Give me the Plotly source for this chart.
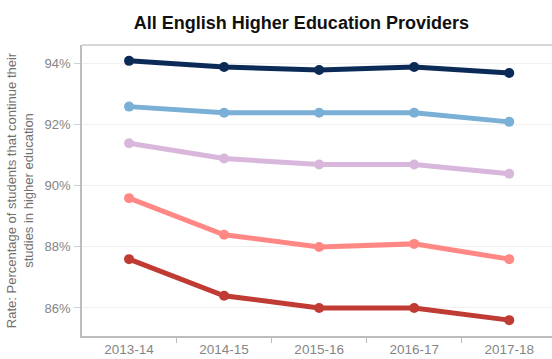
import plotly.graph_objects as go

years = ["2013-14", "2014-15", "2015-16", "2016-17", "2017-18"]

series_a = [94.1, 93.9, 93.8, 93.9, 93.7]
series_b = [92.6, 92.4, 92.4, 92.4, 92.1]
series_c = [91.4, 90.9, 90.7, 90.7, 90.4]
series_d = [89.6, 88.4, 88.0, 88.1, 87.6]
series_e = [87.6, 86.4, 86.0, 86.0, 85.6]

y_ticks = [86, 88, 90, 92, 94]
y_tick_labels = ["86%", "88%", "90%", "92%", "94%"]

colors = ["#0b2b56", "#7aafd6", "#d9b7dd", "#ff8884", "#c03b33"]

fig = go.Figure()
for vals, col in zip([series_a, series_b, series_c, series_d, series_e], colors):
    fig.add_trace(go.Scatter(
        x=years, y=vals, mode="lines+markers",
        line=dict(color=col, width=5),
        marker=dict(color=col, size=10),
        showlegend=False, hoverinfo="skip",
    ))

fig.update_layout(
    width=552, height=359,
    margin=dict(l=82, r=0, t=45, b=23),
    paper_bgcolor="white", plot_bgcolor="white",
    title=dict(
        text="<b>All English Higher Education Providers</b>",
        x=0.546, xanchor="center", y=0.937, yanchor="middle",
        font=dict(family="Liberation Sans, Arial", size=18, color="#111"),
    ),
    font=dict(family="Liberation Sans, Arial", color="#777"),
    shapes=[dict(type="line", xref="paper", yref="paper", x0=0, x1=1, y0=1, y1=1,
                 line=dict(color="#c8c8c8", width=1.5))],
)

fig.update_xaxes(
    type="category", range=[-0.495, 4.45],
    showline=True, linecolor="#bdbdbd", linewidth=1.5,
    ticks="outside", tickson="boundaries", ticklen=5, tickcolor="#bdbdbd",
    showgrid=False, tickfont=dict(size=13.5, color="#858585"),
)
fig.update_yaxes(
    range=[85.08, 94.62],
    tickvals=y_ticks, ticktext=y_tick_labels,
    showline=True, linecolor="#bdbdbd", linewidth=1.5,
    showgrid=True, gridcolor="#f0f0f0", gridwidth=1,
    zeroline=False, ticks="outside", ticklen=6, tickcolor="#d0d0d0",
    ticklabelstandoff=1,
    tickfont=dict(size=13, color="#858585"),
    title=dict(
        text="Rate: Percentage of students that continue their<br>studies in higher education",
        font=dict(size=13, color="#707070"), standoff=8,
    ),
)

fig.write_html("out.html")
